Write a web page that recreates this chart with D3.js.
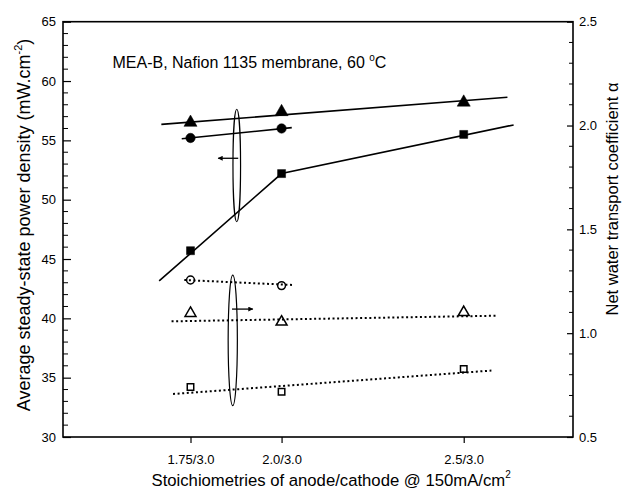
<!DOCTYPE html>
<html>
<head>
<meta charset="utf-8">
<script src="https://cdn.jsdelivr.net/npm/d3@7"></script>
<style>
  html, body { margin: 0; padding: 0; background: #fff; }
  svg { display: block; font-family: "Liberation Sans", Arial, Helvetica, sans-serif; }
</style>
</head>
<body>
<svg id="chart" width="622" height="490"></svg>
<script>
// Stoichiometry (anode, cathode fixed at 3.0)
const stoich = [1.75, 2.0, 2.5];
const stoichLabels = ["1.75/3.0", "2.0/3.0", "2.5/3.0"];

// Average steady-state power density (mW/cm2), left axis
const powerTriangle = [56.5, 57.4, 58.2];
const powerCircle = [55.2, 56.0];
const powerSquare = [45.7, 52.2, 55.5];

// Net water transport coefficient alpha, right axis
const alphaCircle = [1.256, 1.229];
const alphaTriangle = [1.096, 1.054, 1.10];
const alphaSquare = [0.741, 0.718, 0.827];

// Trend lines (x, y pairs)
const trendPowerTriangle = [[1.67, 56.35], [2.62, 58.63]];
const trendPowerCircle = [[1.726, 55.14], [2.028, 56.07]];
const trendPowerSquare = [[1.664, 43.15], [2.0, 52.2], [2.637, 56.3]];
const trendAlphaCircle = [[1.733, 1.256], [2.032, 1.232]];
const trendAlphaTriangle = [[1.698, 1.057], [2.588, 1.084]];
const trendAlphaSquare = [[1.702, 0.707], [2.576, 0.82]];

// Axis ticks
const leftTicks = [30, 35, 40, 45, 50, 55, 60, 65];
const rightTicks = [0.5, 1.0, 1.5, 2.0, 2.5];

const svg = d3.select("#chart");
const L = 63, R = 573, T = 21.7, B = 437;

const x = d3.scaleLinear().domain([1.4, 2.8]).range([L, R]);
const yL = d3.scaleLinear().domain([30, 65]).range([B, T]);
const yR = d3.scaleLinear().domain([0.5, 2.5]).range([B, T]);

// Minor ticks, left (every 1 unit) and right (every 0.1)
const leftMinor = d3.range(30, 65.01, 1).filter(v => v % 5 !== 0);
const rightMinor = d3.range(5, 25.01, 1).map(v => v / 10).filter(v => Math.abs(v * 2 - Math.round(v * 2)) > 1e-6);

svg.append("g").selectAll("line").data(leftMinor).join("line")
  .attr("x1", L).attr("x2", L + 5)
  .attr("y1", d => yL(d)).attr("y2", d => yL(d))
  .attr("stroke", "#000").attr("stroke-width", 1);
svg.append("g").selectAll("line").data(rightMinor).join("line")
  .attr("x1", R).attr("x2", R - 4)
  .attr("y1", d => yR(d)).attr("y2", d => yR(d))
  .attr("stroke", "#000").attr("stroke-width", 1);

// Left axis
const gL = svg.append("g").attr("transform", `translate(${L},0)`)
  .call(d3.axisLeft(yL).tickValues(leftTicks).tickFormat(d3.format("d")).tickSizeInner(-8).tickSizeOuter(0).tickPadding(7));
// Right axis
const gR = svg.append("g").attr("transform", `translate(${R},0)`)
  .call(d3.axisRight(yR).tickValues(rightTicks).tickFormat(d3.format(".1f")).tickSizeInner(-6).tickSizeOuter(0).tickPadding(6));
// Bottom axis
const gB = svg.append("g").attr("transform", `translate(0,${B})`)
  .call(d3.axisBottom(x).tickValues(stoich).tickFormat((d, i) => stoichLabels[i]).tickSizeInner(6).tickSizeOuter(0).tickPadding(12));

[gL, gR, gB].forEach(g => {
  g.select(".domain").remove();
  g.selectAll("line").attr("stroke", "#000").attr("stroke-width", 1.2);
  g.selectAll("text").attr("font-size", 13).attr("fill", "#000")
    .attr("font-family", "Liberation Sans, Arial, sans-serif");
});

// Frame
svg.append("rect").attr("x", L).attr("y", T).attr("width", R - L).attr("height", B - T)
  .attr("fill", "none").attr("stroke", "#000").attr("stroke-width", 1.6);

// Trend lines
const lineL = d3.line().x(d => x(d[0])).y(d => yL(d[1]));
const lineR = d3.line().x(d => x(d[0])).y(d => yR(d[1]));
[trendPowerTriangle, trendPowerCircle, trendPowerSquare].forEach(t => {
  svg.append("path").attr("d", lineL(t)).attr("fill", "none").attr("stroke", "#000").attr("stroke-width", 1.6);
});
[trendAlphaCircle, trendAlphaTriangle, trendAlphaSquare].forEach(t => {
  svg.append("path").attr("d", lineR(t)).attr("fill", "none").attr("stroke", "#000")
    .attr("stroke-width", 2).attr("stroke-dasharray", "2,2.6");
});

// Markers (open symbols are unfilled, so the dotted line shows through)
function markers(values, yScale, type, filled, size) {
  const sym = d3.symbol().type(type).size(size);
  svg.append("g").selectAll("path").data(values).join("path")
    .attr("transform", (d, i) => `translate(${x(stoich[i])},${yScale(d)})`)
    .attr("d", sym)
    .attr("fill", filled ? "#000" : "none")
    .attr("stroke", "#000")
    .attr("stroke-width", filled ? 0.5 : 1.5);
}
markers(powerTriangle, yL, d3.symbolTriangle, true, 74);
markers(powerCircle, yL, d3.symbolCircle, true, 70);
markers(powerSquare, yL, d3.symbolSquare, true, 64);
markers(alphaCircle, yR, d3.symbolCircle, false, 48);
markers(alphaTriangle, yR, d3.symbolTriangle, false, 52);
markers(alphaSquare, yR, d3.symbolSquare, false, 42);

// Group ellipses and arrows
function groupMark(cx, yTop, yBot, scale, rx) {
  const top = scale(yTop), bot = scale(yBot);
  svg.append("ellipse").attr("cx", x(cx)).attr("cy", (top + bot) / 2)
    .attr("rx", rx).attr("ry", (bot - top) / 2)
    .attr("fill", "none").attr("stroke", "#000").attr("stroke-width", 1.2);
}
groupMark(1.877, 57.62, 48.15, yL, 3.8);
groupMark(1.866, 1.280, 0.651, yR, 4.6);

svg.append("defs").append("marker").attr("id", "arrow")
  .attr("viewBox", "0 0 10 10").attr("refX", 9).attr("refY", 5)
  .attr("markerWidth", 7).attr("markerHeight", 5).attr("markerUnits", "userSpaceOnUse")
  .attr("orient", "auto")
  .append("path").attr("d", "M0,0 L10,5 L0,10 Z").attr("fill", "#000");

function arrow(x0, x1, yv, scale) {
  svg.append("line").attr("x1", x(x0)).attr("x2", x(x1))
    .attr("y1", scale(yv)).attr("y2", scale(yv))
    .attr("stroke", "#000").attr("stroke-width", 1.3).attr("marker-end", "url(#arrow)");
}
arrow(1.881, 1.826, 53.49, yL);
arrow(1.864, 1.921, 1.116, yR);

// Condition label
const cond = svg.append("text").attr("x", 112.5).attr("y", 68.3).attr("font-size", 16).attr("fill", "#000");
cond.append("tspan").text("MEA-B, Nafion 1135 membrane, 60 ");
cond.append("tspan").attr("font-size", 10).attr("dy", -7).text("o");
cond.append("tspan").attr("dy", 7).text("C");

// Axis titles
const xt = svg.append("text").attr("x", 151.5).attr("y", 486).attr("font-size", 16.7).attr("fill", "#000");
xt.append("tspan").text("Stoichiometries of anode/cathode @ 150mA/cm");
xt.append("tspan").attr("font-size", 10).attr("dy", -8).text("2");

const ylt = svg.append("text").attr("transform", "translate(30,225) rotate(-90)")
  .attr("text-anchor", "middle").attr("font-size", 18).attr("fill", "#000");
ylt.append("tspan").text("Average steady-state power density (mW.cm");
ylt.append("tspan").attr("font-size", 11).attr("dy", -8).text("-2");
ylt.append("tspan").attr("dy", 8).text(")");

svg.append("text").attr("transform", "translate(618,199) rotate(-90)")
  .attr("text-anchor", "middle").attr("font-size", 16.5).attr("fill", "#000")
  .text("Net water transport coefficient α");
</script>
</body>
</html>
